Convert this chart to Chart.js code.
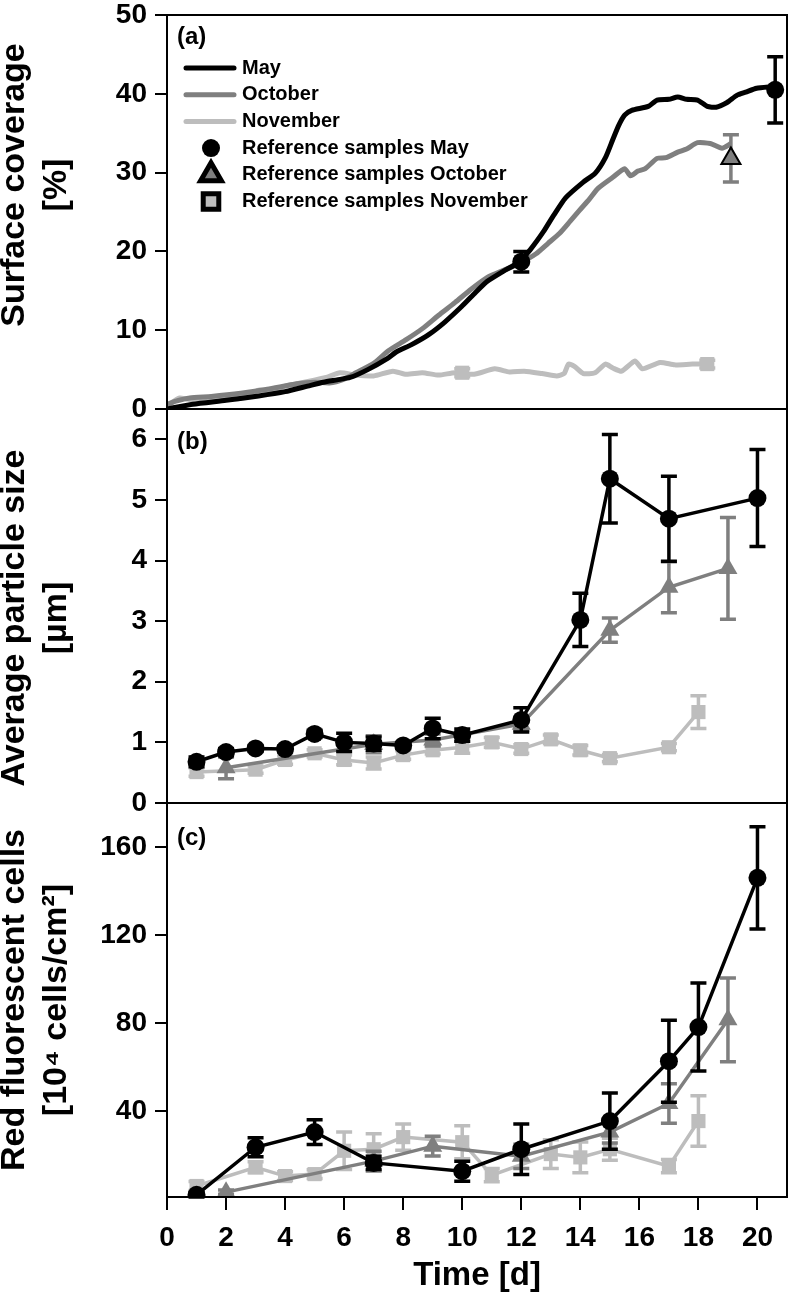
<!DOCTYPE html>
<html>
<head>
<meta charset="utf-8">
<script src="https://cdn.jsdelivr.net/npm/chart.js@4.4.0/dist/chart.umd.min.js"></script>
<style>
  html, body { margin: 0; padding: 0; background: #fff; }
  #wrap { width: 800px; height: 1296px; }
</style>
</head>
<body>
<div id="wrap"><canvas id="chart" width="800" height="1296"></canvas></div>
<script>
// tick labels and axis texts
const xTicks = [0, 2, 4, 6, 8, 10, 12, 14, 16, 18, 20];
const coverageTicks = [0, 10, 20, 30, 40, 50];
const sizeTicks = [0, 1, 2, 3, 4, 5, 6];
const cellTicks = [40, 80, 120, 160];
const panelLabels = ['(a)', '(b)', '(c)'];
const yTitles = [
    ['Surface coverage', '[%]'],
    ['Average particle size', '[µm]'],
    ['Red fluorescent cells', '[10⁴ cells/cm²]']
];

// (a) surface coverage, continuous curves
const coverageMayDays = [0, 0.87, 2.0, 3.1, 4.0, 4.76, 5.3, 5.76, 6.2, 6.8, 7.5, 7.75, 8.3, 8.85, 9.4, 9.98, 10.4, 10.85, 11.4, 11.9, 12.3, 12.75, 13.1, 13.5, 14.1, 14.5, 14.85, 15.1, 15.3, 15.5, 15.74, 16.3, 16.6, 17.0, 17.3, 17.6, 17.97, 18.3, 18.6, 18.97, 19.3, 19.6, 19.97, 20.5];
const coverageMay = [0, 0.6, 1.1, 1.65, 2.2, 2.9, 3.4, 3.7, 4.0, 5.0, 6.5, 7.2, 8.2, 9.4, 11.0, 13.0, 14.6, 16.2, 17.5, 18.6, 20.2, 22.5, 24.6, 26.8, 28.8, 29.9, 31.9, 34.2, 36.0, 37.3, 37.9, 38.4, 39.2, 39.3, 39.6, 39.3, 39.2, 38.4, 38.3, 38.9, 39.8, 40.2, 40.7, 40.9];
const coverageOctDays = [0, 0.3, 0.77, 1.5, 2.5, 3.4, 4.4, 5.0, 5.5, 6.0, 6.4, 7.0, 7.5, 8.1, 8.65, 9.2, 9.75, 10.3, 10.85, 11.4, 11.9, 12.5, 12.9, 13.3, 13.65, 13.97, 14.3, 14.6, 15.1, 15.5, 15.7, 15.95, 16.2, 16.6, 16.9, 17.3, 17.6, 17.97, 18.4, 18.8, 19.1];
const coverageOct = [0.6, 1.0, 1.4, 1.6, 2.0, 2.5, 3.2, 3.4, 3.3, 3.8, 4.6, 5.8, 7.4, 8.8, 10.2, 11.9, 13.5, 15.2, 16.7, 17.6, 18.4, 19.7, 21.0, 22.3, 23.8, 25.2, 26.6, 28.0, 29.4, 30.5, 29.6, 30.2, 30.5, 31.8, 31.9, 32.6, 33.0, 33.8, 33.7, 33.1, 33.7];
const coverageNovDays = [0, 0.43, 0.9, 1.4, 1.9, 2.4, 2.8, 3.1, 3.5, 4.0, 4.4, 4.9, 5.4, 5.86, 6.4, 7.0, 7.65, 8.1, 8.65, 9.2, 9.75, 10.4, 11.1, 11.6, 12.1, 12.7, 13.2, 13.45, 13.6, 13.8, 14.1, 14.5, 14.85, 15.1, 15.4, 15.85, 16.1, 16.7, 17.2, 17.8, 18.4];
const coverageNov = [0.4, 1.4, 1.1, 1.0, 1.4, 1.3, 1.8, 2.4, 2.3, 2.9, 3.2, 3.6, 4.0, 4.6, 4.3, 4.2, 4.8, 4.4, 4.6, 4.3, 4.6, 4.4, 5.1, 4.7, 4.8, 4.5, 4.2, 4.5, 5.7, 5.4, 4.5, 4.6, 5.7, 5.2, 4.8, 6.1, 5.1, 5.9, 5.6, 5.7, 5.7];

// (a) reference samples
const refMayDays = [12, 20.6];
const refMay = [18.7, 40.5];
const refMayErr = [1.3, 4.2];
const refOctDays = [19.1];
const refOct = [31.8];
const refOctErr = [3.0];
const refNovDays = [10, 18.3];
const refNov = [4.6, 5.7];
const refNovErr = [0.5, 0.5];

// (b) average particle size
const sizeMayDays = [1, 2, 3, 4, 5, 6, 7, 8, 9, 10, 12, 14, 15, 17, 20];
const sizeMay = [0.68, 0.84, 0.9, 0.89, 1.14, 1.0, 0.98, 0.95, 1.23, 1.12, 1.37, 3.02, 5.35, 4.69, 5.03];
const sizeMayErr = [0.08, 0.06, 0.05, 0.05, 0.06, 0.15, 0.11, 0.05, 0.17, 0.1, 0.2, 0.44, 0.73, 0.7, 0.8];
const sizeOctDays = [2, 7, 9, 12, 15, 17, 19];
const sizeOct = [0.58, 0.97, 1.04, 1.3, 2.85, 3.56, 3.87];
const sizeOctErr = [0.18, 0.14, 0.1, 0.1, 0.2, 0.42, 0.84];
const sizeNovDays = [1, 3, 4, 5, 6, 7, 8, 9, 10, 11, 12, 13, 14, 15, 17, 18];
const sizeNov = [0.51, 0.55, 0.71, 0.82, 0.71, 0.66, 0.79, 0.87, 0.92, 1.0, 0.89, 1.05, 0.87, 0.74, 0.92, 1.5];
const sizeNovErr = [0.07, 0.06, 0.07, 0.06, 0.08, 0.1, 0.07, 0.06, 0.1, 0.08, 0.07, 0.07, 0.08, 0.06, 0.06, 0.27];

// (c) red fluorescent cells
const cellMayDays = [1, 3, 5, 7, 10, 12, 15, 17, 18, 20];
const cellMay = [2, 23.6, 30.5, 16.5, 12.7, 22.7, 35.5, 62.7, 78.2, 146];
const cellMayErr = [1, 4.3, 5.6, 3, 4.5, 11.5, 12.8, 18.6, 20, 23.2];
const cellOctDays = [2, 7, 9, 12, 15, 17, 19];
const cellOct = [3.2, 17.3, 24.1, 19.5, 30.5, 43.5, 81.5];
const cellOctErr = [1, 4.5, 4.5, 5.5, 5, 9, 19];
const cellNovDays = [1, 3, 4, 5, 6, 7, 8, 10, 11, 13, 14, 15, 17, 18];
const cellNov = [6, 14.5, 10.5, 11.4, 22, 22.7, 28.2, 25.9, 10.9, 20.5, 19, 22.7, 15, 35.5];
const cellNovErr = [2, 2.5, 2, 2, 8.5, 7, 6, 7.5, 3, 6.5, 7, 5, 3, 11.5];

const BLACK = '#000000';
const GREY = '#7f7f7f';
const LIGHT = '#bdbdbd';
const FONT = "'Liberation Sans', Arial, sans-serif";

Chart.defaults.font.family = FONT;
Chart.defaults.color = '#000';

function pts(xs, ys) {
    return xs.map((x, i) => ({ x: x, y: ys[i] }));
}

function curve(label, xs, ys, color) {
    return {
        label: label, data: pts(xs, ys), yAxisID: 'ya', inLegend: true,
        borderColor: color, backgroundColor: color, borderWidth: 5,
        pointRadius: 0, pointHoverRadius: 0, tension: 0.2, fill: false
    };
}

function samples(label, xs, ys, errs, axis, color, style, radius, withLine) {
    return {
        label: label, data: pts(xs, ys), errors: errs, yAxisID: axis,
        borderColor: color, backgroundColor: color, borderWidth: 3.5,
        pointStyle: style, pointRadius: radius, pointHoverRadius: radius,
        pointBorderColor: color, pointBorderWidth: 0,
        showLine: withLine, tension: 0, fill: false
    };
}

const datasets = [
    curve('May', coverageMayDays, coverageMay, BLACK),
    curve('October', coverageOctDays, coverageOct, GREY),
    curve('November', coverageNovDays, coverageNov, LIGHT),
    Object.assign(samples('Reference samples May', refMayDays, refMay, refMayErr, 'ya', BLACK, 'circle', 9, false), { order: -1, inLegend: true }),
    Object.assign(samples('Reference samples October', refOctDays, refOct, refOctErr, 'ya', GREY, 'triangle', 11, false), { order: -1, inLegend: true, pointBorderColor: BLACK, pointBorderWidth: 2 }),
    Object.assign(samples('Reference samples November', refNovDays, refNov, refNovErr, 'ya', LIGHT, 'rect', 10, false), { order: -1, inLegend: true }),
    samples('May', sizeMayDays, sizeMay, sizeMayErr, 'yb', BLACK, 'circle', 9, true),
    samples('October', sizeOctDays, sizeOct, sizeOctErr, 'yb', GREY, 'triangle', 11, true),
    samples('November', sizeNovDays, sizeNov, sizeNovErr, 'yb', LIGHT, 'rect', 10, true),
    samples('May', cellMayDays, cellMay, cellMayErr, 'yc', BLACK, 'circle', 9, true),
    samples('October', cellOctDays, cellOct, cellOctErr, 'yc', GREY, 'triangle', 11, true),
    samples('November', cellNovDays, cellNov, cellNovErr, 'yc', LIGHT, 'rect', 10, true)
];

// vertical error bars with caps, drawn just under each dataset's markers
const errorBars = {
    id: 'errorBars',
    beforeDatasetDraw(chart, args) {
        const ds = chart.data.datasets[args.index];
        if (!ds.errors) return;
        const ctx = chart.ctx;
        const xs = chart.scales.x;
        const ys = chart.scales[ds.yAxisID];
        ctx.save();
        ctx.strokeStyle = ds.borderColor;
        ctx.lineWidth = 3.5;
        ds.data.forEach((p, i) => {
            const e = ds.errors[i];
            if (!e) return;
            const px = xs.getPixelForValue(p.x);
            const top = ys.getPixelForValue(p.y + e);
            const bot = ys.getPixelForValue(p.y - e);
            ctx.beginPath();
            ctx.moveTo(px, top); ctx.lineTo(px, bot);
            ctx.moveTo(px - 8, top); ctx.lineTo(px + 8, top);
            ctx.moveTo(px - 8, bot); ctx.lineTo(px + 8, bot);
            ctx.stroke();
        });
        ctx.restore();
    }
};

// frames, panel letters, rotated y titles and the legend of panel (a)
const panelDecor = {
    id: 'panelDecor',
    afterDatasetsDraw(chart) {
        const ctx = chart.ctx;
        const area = chart.chartArea;
        ctx.save();
        ctx.strokeStyle = '#000';
        ctx.lineWidth = 2;
        ['ya', 'yb', 'yc'].forEach((id) => {
            const s = chart.scales[id];
            ctx.strokeRect(area.left, s.top, area.right - area.left, s.bottom - s.top);
        });
        ctx.restore();
    },
    afterDraw(chart) {
        const ctx = chart.ctx;
        const area = chart.chartArea;
        const labelOffsets = [22, 33, 35];
        const titleShift = [-27, 12, 0];
        ctx.save();
        ctx.fillStyle = '#000';
        ctx.textBaseline = 'middle';
        ctx.textAlign = 'left';
        ctx.font = 'bold 24px ' + FONT;
        ['ya', 'yb', 'yc'].forEach((id, i) => {
            ctx.fillText(panelLabels[i], area.left + 10, chart.scales[id].top + labelOffsets[i]);
        });

        // y titles, two lines each, reading bottom to top
        ctx.font = 'bold 34px ' + FONT;
        ctx.textAlign = 'center';
        ['ya', 'yb', 'yc'].forEach((id, i) => {
            const s = chart.scales[id];
            const cy = (s.top + s.bottom) / 2 + titleShift[i];
            yTitles[i].forEach((line, j) => {
                ctx.save();
                ctx.translate(15 + j * 42, cy);
                ctx.rotate(-Math.PI / 2);
                ctx.fillText(line, 0, 0);
                ctx.restore();
            });
        });

        // legend
        const top = chart.scales.ya.top;
        ctx.font = 'bold 20px ' + FONT;
        ctx.textAlign = 'left';
        let row = 0;
        chart.data.datasets.forEach((ds) => {
            if (!ds.inLegend) return;
            const y = top + 53 + row * 26.7;
            if (ds.pointRadius === 0) {
                ctx.strokeStyle = ds.borderColor;
                ctx.lineWidth = 5;
                ctx.lineCap = 'round';
                ctx.beginPath();
                ctx.moveTo(area.left + 19, y);
                ctx.lineTo(area.left + 67, y);
                ctx.stroke();
            } else {
                ctx.fillStyle = ds.backgroundColor;
                ctx.strokeStyle = BLACK;
                Chart.helpers.drawPoint(ctx, {
                    pointStyle: ds.pointStyle,
                    radius: ds.pointStyle === 'triangle' ? 12 : (ds.pointStyle === 'rect' ? 11 : 9),
                    rotation: 0,
                    borderWidth: ds.pointStyle === 'circle' ? 0 : 2.5
                }, area.left + 44, y);
            }
            ctx.fillStyle = '#000';
            ctx.fillText(ds.label, area.left + 75, y);
            row++;
        });
        ctx.restore();
    }
};

function yAxis(min, max, tickValues, weight) {
    return {
        type: 'linear', position: 'left', stack: 'panels', stackWeight: 1, weight: weight,
        min: min, max: max,
        afterBuildTicks: (scale) => { scale.ticks = tickValues.map((v) => ({ value: v })); },
        afterFit: (scale) => { scale.width = 167; scale.paddingTop = 0; scale.paddingBottom = 0; },
        grid: { drawOnChartArea: false, drawTicks: true, tickLength: 12, color: '#000', lineWidth: 2 },
        border: { display: true, color: '#000', width: 2 },
        ticks: { padding: 8, color: '#000', font: { size: 28, weight: 'bold', lineHeight: 1 } },
        title: { display: false }
    };
}

const ctx = document.getElementById('chart').getContext('2d');
const chart = new Chart(ctx, {
    type: 'line',
    data: { datasets: datasets },
    options: {
        responsive: false,
        animation: false,
        devicePixelRatio: 1,
        events: [],
        layout: { padding: { top: 15, right: 2, left: 0, bottom: 0 } },
        plugins: {
            legend: { display: false },
            tooltip: { enabled: false }
        },
        scales: {
            x: {
                type: 'linear', position: 'bottom', min: 0, max: 21,
                afterBuildTicks: (scale) => { scale.ticks = xTicks.map((v) => ({ value: v })); },
                afterFit: (scale) => { scale.height = 99; scale.paddingLeft = 0; scale.paddingRight = 0; },
                grid: { drawOnChartArea: false, drawTicks: true, tickLength: 13, color: '#000', lineWidth: 2 },
                border: { display: true, color: '#000', width: 2 },
                ticks: { padding: 14, color: '#000', maxRotation: 0, font: { size: 28, weight: 'bold', lineHeight: 1 } },
                title: {
                    display: true, text: 'Time [d]', color: '#000',
                    font: { size: 33, weight: 'bold', lineHeight: 1.2 },
                    padding: { top: 0, bottom: 0 }
                }
            },
            ya: yAxis(0, 50, coverageTicks, 3),
            yb: yAxis(0, 6.5, sizeTicks, 2),
            yc: yAxis(1, 180, cellTicks, 1)
        }
    },
    plugins: [errorBars, panelDecor]
});
</script>
</body>
</html>
